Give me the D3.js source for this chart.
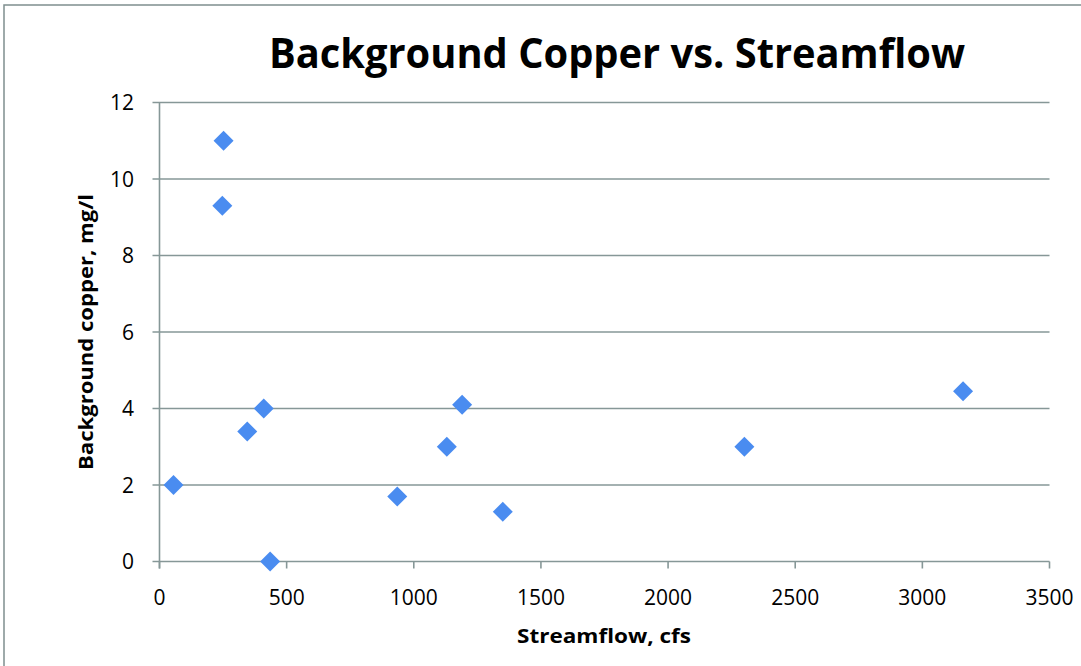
<!DOCTYPE html>
<html>
<head>
<meta charset="utf-8">
<script src="https://cdn.jsdelivr.net/npm/d3@7"></script>
<style>
  body { margin: 0; background: #fff; }
  text { font-family: "Open Sans", "Noto Sans", sans-serif; fill: #000; }
</style>
</head>
<body>
<svg id="chart" width="1081" height="666"></svg>
<script>
// streamflow (cfs) vs background copper (mg/l)
var streamflow = [55, 345, 410, 435, 935, 1130, 1190, 1350, 2300, 3160, 252, 247];
var copper     = [2.0, 3.4, 4.0, 0.0, 1.7, 3.0, 4.1, 1.3, 3.0, 4.45, 11.0, 9.3];
var xTicks = [0, 500, 1000, 1500, 2000, 2500, 3000, 3500];
var yTicks = [0, 2, 4, 6, 8, 10, 12];

var svg = d3.select("#chart");

// outer chart frame
svg.append("rect")
  .attr("x", 4).attr("y", 5)
  .attr("width", 1090).attr("height", 680)
  .attr("fill", "none")
  .attr("stroke", "#7f8f8f")
  .attr("stroke-width", 1.5);

var x = d3.scaleLinear().domain([0, 3500]).range([159.5, 1049.5]);
var y = d3.scaleLinear().domain([0, 12]).range([561.5, 102.5]);

// gridlines
svg.append("g").selectAll("line")
  .data(yTicks)
  .enter().append("line")
  .attr("x1", x(0) - 7).attr("x2", x(3500))
  .attr("y1", function(d) { return y(d); })
  .attr("y2", function(d) { return y(d); })
  .attr("stroke", "#869797")
  .attr("stroke-width", 1.6);

// y axis line
svg.append("line")
  .attr("x1", x(0)).attr("x2", x(0))
  .attr("y1", y(12)).attr("y2", y(0) + 7)
  .attr("stroke", "#869797")
  .attr("stroke-width", 1.6);

// x ticks
svg.append("g").selectAll("line")
  .data(xTicks)
  .enter().append("line")
  .attr("x1", function(d) { return x(d); })
  .attr("x2", function(d) { return x(d); })
  .attr("y1", y(0)).attr("y2", y(0) + 7)
  .attr("stroke", "#869797")
  .attr("stroke-width", 1.6);

// tick labels
svg.append("g").selectAll("text")
  .data(yTicks)
  .enter().append("text")
  .attr("x", 134)
  .attr("y", function(d) { return y(d) + 7.5; })
  .attr("text-anchor", "end")
  .style("font-size", "21px")
  .text(function(d) { return d; });

svg.append("g").selectAll("text")
  .data(xTicks)
  .enter().append("text")
  .attr("x", function(d) { return x(d); })
  .attr("y", 605)
  .attr("text-anchor", "middle")
  .style("font-size", "21px")
  .text(function(d) { return d; });

// titles
svg.append("text")
  .attr("x", 617).attr("y", 68)
  .attr("text-anchor", "middle")
  .attr("textLength", 696)
  .attr("lengthAdjust", "spacingAndGlyphs")
  .style("font-size", "41px")
  .style("font-weight", "bold")
  .text("Background Copper vs. Streamflow");

svg.append("text")
  .attr("x", 604).attr("y", 643)
  .attr("text-anchor", "middle")
  .attr("textLength", 174)
  .attr("lengthAdjust", "spacingAndGlyphs")
  .style("font-size", "20px")
  .style("font-weight", "bold")
  .text("Streamflow, cfs");

svg.append("text")
  .attr("transform", "translate(93,332) rotate(-90)")
  .attr("text-anchor", "middle")
  .attr("textLength", 276)
  .attr("lengthAdjust", "spacingAndGlyphs")
  .style("font-size", "20px")
  .style("font-weight", "bold")
  .text("Background copper, mg/l");

// diamond markers
var pts = streamflow.map(function(d, i) { return [d, copper[i]]; });
var diamond = d3.symbol().type(d3.symbolSquare).size(200);

svg.append("g").selectAll("path")
  .data(pts)
  .enter().append("path")
  .attr("d", diamond)
  .attr("transform", function(d) {
    return "translate(" + x(d[0]) + "," + y(d[1]) + ") rotate(45)"; })
  .attr("fill", "#4a8cf0");
</script>
</body>
</html>
